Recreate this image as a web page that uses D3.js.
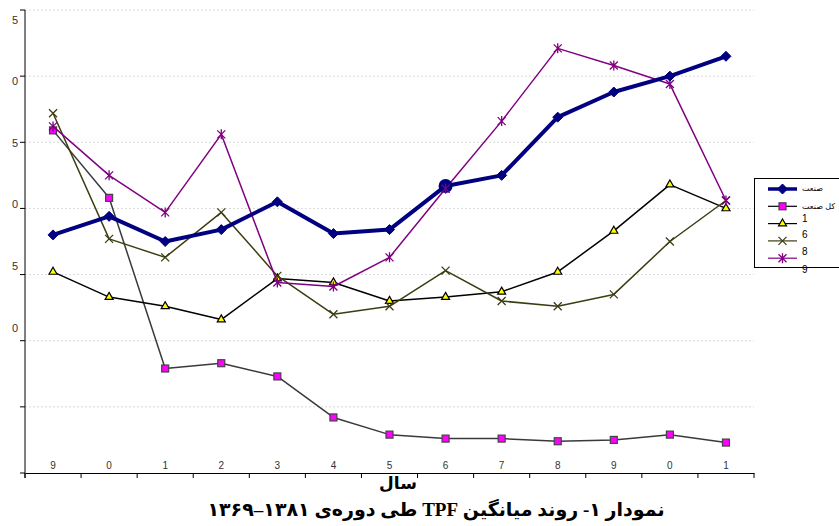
<!DOCTYPE html>
<html>
<head>
<meta charset="utf-8">
<script src="https://cdn.jsdelivr.net/npm/d3@7"></script>
<style>
  body { margin: 0; background: #fff; }
  svg { display: block; }
</style>
</head>
<body>
<div id="chart"></div>
<script>
// years 1369..1381, shown by their last digit
var years = ["1369", "1370", "1371", "1372", "1373", "1374", "1375", "1376", "1377", "1378", "1379", "1380", "1381"];
var xLabels = ["9", "0", "1", "2", "3", "4", "5", "6", "7", "8", "9", "0", "1"];

var yTicks = [1.05, 1.00, 0.95, 0.90, 0.85, 0.80, 0.75, 0.70];
var yTickLabels = ["5", "0", "5", "0", "5", "0", "", ""];

var sanat = [0.880, 0.894, 0.875, 0.884, 0.905, 0.881, 0.884, 0.917, 0.925, 0.969, 0.988, 1.000, 1.015];
var kolSanat = [0.959, 0.908, 0.779, 0.783, 0.773, 0.742, 0.729, 0.726, 0.726, 0.724, 0.725, 0.729, 0.723];
var s1 = [0.852, 0.833, 0.826, 0.816, 0.847, 0.844, 0.830, 0.833, 0.837, 0.852, 0.883, 0.918, 0.900];
var s6 = [0.972, 0.877, 0.863, 0.897, 0.849, 0.820, 0.826, 0.853, 0.830, 0.826, 0.835, 0.875, 0.906];
var s8 = [0.962, 0.925, 0.897, 0.956, 0.844, 0.841, 0.863, 0.915, 0.966, 1.021, 1.008, 0.994, 0.906];

var legendLabels = ["صنعت", "کل صنعت", "1", "6", "8", "9"];
var title = "نمودار ۱- روند میانگین TPF طی دوره‌ی ۱۳۸۱–۱۳۶۹";
var xTitle = "سال";

var svgWidth = 839;
var svgHeight = 526;

var margin = { top: 10, right: 85, bottom: 53, left: 25 };
var width = svgWidth - margin.left - margin.right;
var height = svgHeight - margin.top - margin.bottom;

var svg = d3.select("#chart")
  .append("svg")
  .attr("width", svgWidth)
  .attr("height", svgHeight);

var chartGroup = svg.append("g")
  .attr("transform", `translate(${margin.left}, ${margin.top})`);

var xScale = d3.scaleBand()
  .domain(years)
  .range([0, width]);

var yScale = d3.scaleLinear()
  .domain([0.70, 1.05])
  .range([height, 0]);

var xc = d => xScale(d) + xScale.bandwidth() / 2;

// gridlines
chartGroup.selectAll(".grid")
  .data(yTicks.slice(0, 7))
  .enter()
  .append("line")
  .attr("x1", 0)
  .attr("x2", width)
  .attr("y1", d => yScale(d))
  .attr("y2", d => yScale(d))
  .attr("stroke", "#dadada")
  .attr("stroke-width", 1)
  .attr("stroke-dasharray", "2,2");

// y axis
chartGroup.append("line")
  .attr("x1", 0).attr("x2", 0)
  .attr("y1", 0).attr("y2", height + 5)
  .attr("stroke", "#000");

chartGroup.selectAll(".ytick")
  .data(yTicks)
  .enter()
  .append("line")
  .attr("x1", -5).attr("x2", 0)
  .attr("y1", d => yScale(d))
  .attr("y2", d => yScale(d))
  .attr("stroke", "#000");

chartGroup.selectAll(".ylabel")
  .data(yTicks)
  .enter()
  .append("text")
  .attr("x", -7)
  .attr("y", (d, i) => yScale(d) + 10 - i * 4.6)
  .attr("dy", "0.35em")
  .attr("text-anchor", "end")
  .attr("font-family", "Liberation Sans, Arial, sans-serif")
  .attr("font-size", "11px")
  .attr("fill", "#333")
  .text((d, i) => yTickLabels[i]);

// x axis
var bottomAxis = d3.axisBottom(xScale)
  .tickSize(0)
  .tickFormat("");

chartGroup.append("g")
  .attr("transform", `translate(0, ${height})`)
  .call(bottomAxis)
  .call(g => g.select(".domain").attr("stroke", "#000"));

var boundaries = years.map(d => xScale(d)).concat([width]);
chartGroup.selectAll(".xtick")
  .data(boundaries)
  .enter()
  .append("line")
  .attr("x1", d => d).attr("x2", d => d)
  .attr("y1", height).attr("y2", height + 5)
  .attr("stroke", "#000");

chartGroup.selectAll(".xlabel")
  .data(years)
  .enter()
  .append("text")
  .attr("x", d => xc(d))
  .attr("y", height - 8)
  .attr("dy", "0.35em")
  .attr("text-anchor", "middle")
  .attr("font-family", "Liberation Sans, Arial, sans-serif")
  .attr("font-size", "10px")
  .attr("fill", "#333")
  .text((d, i) => xLabels[i]);

// marker shapes
function drawMarker(g, type, x, y) {
  if (type === "diamond") {
    g.append("path")
      .attr("d", `M${x},${y - 5}L${x + 5},${y}L${x},${y + 5}L${x - 5},${y}Z`)
      .attr("fill", "#000080")
      .attr("stroke", "#000080");
  } else if (type === "square") {
    g.append("rect")
      .attr("x", x - 3.5).attr("y", y - 3.5)
      .attr("width", 7).attr("height", 7)
      .attr("fill", "#ff00ff")
      .attr("stroke", "#444")
      .attr("stroke-width", 1.2);
  } else if (type === "triangle") {
    g.append("path")
      .attr("d", d3.symbol().type(d3.symbolTriangle).size(28)())
      .attr("transform", `translate(${x}, ${y})`)
      .attr("fill", "#ffff00")
      .attr("stroke", "#000")
      .attr("stroke-width", 1.2);
  } else if (type === "cross") {
    g.append("path")
      .attr("d", `M${x - 4},${y - 4}L${x + 4},${y + 4}M${x - 4},${y + 4}L${x + 4},${y - 4}`)
      .attr("stroke", "#3d3d12")
      .attr("stroke-width", 1.3);
  } else if (type === "star") {
    g.append("path")
      .attr("d", `M${x - 4},${y - 4}L${x + 4},${y + 4}M${x - 4},${y + 4}L${x + 4},${y - 4}M${x},${y - 5}L${x},${y + 5}`)
      .attr("stroke", "#800080")
      .attr("stroke-width", 1.3);
  }
}

var series = [
  { values: kolSanat, color: "#3a3a3a", width: 1.5, marker: "square" },
  { values: s1, color: "#000", width: 1.5, marker: "triangle" },
  { values: s6, color: "#3d3d12", width: 1.5, marker: "cross" },
  { values: s8, color: "#800080", width: 1.5, marker: "star" },
  { values: sanat, color: "#000080", width: 4, marker: "diamond" }
];

var line = d3.line()
  .x((d, i) => xc(years[i]))
  .y(d => yScale(d));

series.forEach(function(s) {
  var g = chartGroup.append("g");
  g.append("path")
    .attr("d", line(s.values))
    .attr("fill", "none")
    .attr("stroke", s.color)
    .attr("stroke-width", s.width)
    .attr("stroke-linejoin", "round");
  s.values.forEach(function(v, i) {
    drawMarker(g, s.marker, xc(years[i]), yScale(v));
  });
});

// highlighted point on the main series
chartGroup.append("circle")
  .attr("cx", xc(years[7]))
  .attr("cy", yScale(sanat[7]))
  .attr("r", 7)
  .attr("fill", "#000080");
drawMarker(chartGroup, "star", xc(years[7]), yScale(s8[7]));

// legend
var legend = svg.append("g");
legend.append("rect")
  .attr("x", 754.5).attr("y", 178.5)
  .attr("width", 100).attr("height", 89)
  .attr("fill", "#fff")
  .attr("stroke", "#000");

var legendRows = [
  { color: "#000080", width: 3.5, marker: "diamond" },
  { color: "#000", width: 1.2, marker: "square" },
  { color: "#000", width: 1.2, marker: "triangle" },
  { color: "#3d3d12", width: 1.2, marker: "cross" },
  { color: "#800080", width: 1.2, marker: "star" }
];
legendRows.forEach(function(r, i) {
  var y = 189 + i * 17.3;
  legend.append("line")
    .attr("x1", 768).attr("x2", 797)
    .attr("y1", y).attr("y2", y)
    .attr("stroke", r.color)
    .attr("stroke-width", r.width);
  drawMarker(legend, r.marker, 782.5, y);
});

var legendTextY = [188, 206, 218, 234, 251, 269];
legend.selectAll(".ltext")
  .data(legendLabels)
  .enter()
  .append("text")
  .attr("x", 802)
  .attr("y", (d, i) => legendTextY[i])
  .attr("dy", "0.35em")
  .attr("font-family", "Liberation Sans, DejaVu Sans, sans-serif")
  .attr("font-size", (d, i) => i < 2 ? "8px" : "10px")
  .attr("fill", "#000")
  .text(d => d);

// axis title and chart title
svg.append("text")
  .attr("x", 398)
  .attr("y", 489)
  .attr("text-anchor", "middle")
  .attr("direction", "rtl")
  .attr("font-family", "Liberation Serif, DejaVu Sans, serif")
  .attr("font-weight", "bold")
  .attr("font-size", "17px")
  .text(xTitle);

svg.append("text")
  .attr("x", 436)
  .attr("y", 516)
  .attr("text-anchor", "middle")
  .attr("direction", "rtl")
  .attr("font-family", "Liberation Serif, DejaVu Sans, serif")
  .attr("font-weight", "bold")
  .attr("font-size", "19px")
  .text(title);
</script>
</body>
</html>
